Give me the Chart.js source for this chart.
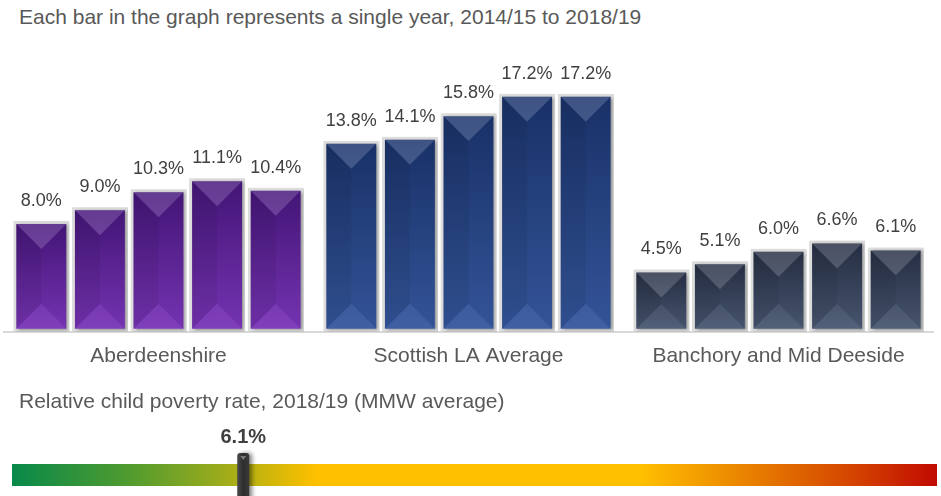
<!DOCTYPE html>
<html>
<head>
<meta charset="utf-8">
<script src="https://cdn.jsdelivr.net/npm/chart.js@4/dist/chart.umd.min.js"></script>
<style>
  body { margin: 0; background: #fff; }
  #wrap { position: relative; width: 941px; height: 496px; overflow: hidden; font-family: 'Liberation Sans', Arial, sans-serif; }
  .caption { position: absolute; left: 19px; font-size: 21px; color: #595959; white-space: nowrap; line-height: 25px; }
  canvas { position: absolute; left: 0; }
</style>
</head>
<body>
<div id="wrap">
  <div class="caption" style="top: 4px;">Each bar in the graph represents a single year, 2014/15 to 2018/19</div>
  <canvas id="bars" width="941" height="392" style="top: 0;"></canvas>
  <div class="caption" style="top: 388px;">Relative child poverty rate, 2018/19 (MMW average)</div>
  <canvas id="scale" width="941" height="76" style="top: 420px;"></canvas>
</div>
<script>
// categories and values
const areas = ['Aberdeenshire', 'Scottish LA Average', 'Banchory and Mid Deeside'];
const years = ['2014/15', '2015/16', '2016/17', '2017/18', '2018/19'];
const aberdeenshire = [8.0, 9.0, 10.3, 11.1, 10.4];
const scottishAverage = [13.8, 14.1, 15.8, 17.2, 17.2];
const banchory = [4.5, 5.1, 6.0, 6.6, 6.1];

const mmwRate = 6.1;
const mmwRange = [0, 24.4];

const FONT = "'Liberation Sans', Arial, sans-serif";

// top / bottom of the vertical gradient for each area
const areaColours = [
  ['#45167a', '#7b36ba'],
  ['#1a336b', '#36589f'],
  ['#262f44', '#4b5a74'],
];

const barFill = (ctx) => {
  const chart = ctx.chart;
  const yScale = chart.scales.y;
  const pair = areaColours[ctx.dataIndex];
  if (!yScale || ctx.raw == null) return pair[1];
  const top = yScale.getPixelForValue(ctx.raw);
  const base = yScale.getPixelForValue(0);
  if (!Number.isFinite(top) || !Number.isFinite(base)) return pair[1];
  const g = chart.ctx.createLinearGradient(0, top, 0, base);
  g.addColorStop(0, pair[0]);
  g.addColorStop(1, pair[1]);
  return g;
};

// shadow + bevel facets + value labels
const bevel = {
  id: 'bevel',
  beforeDatasetsDraw(chart) {
    const c = chart.ctx;
    c.save();
    c.shadowColor = 'rgba(0,0,0,0.35)';
    c.shadowBlur = 3;
    c.shadowOffsetX = 2;
    c.shadowOffsetY = 1;
  },
  afterDatasetsDraw(chart) {
    const c = chart.ctx;
    c.restore();
    chart.data.datasets.forEach((ds, di) => {
      const meta = chart.getDatasetMeta(di);
      meta.data.forEach((bar, i) => {
        const { x, y, base, width } = bar.getProps(['x', 'y', 'base', 'width'], true);
        const bw = 3;
        const L = x - width / 2 + bw, R = x + width / 2 - bw;
        const T = y + bw, B = base - bw;
        const d = (R - L) / 2;
        const poly = (pts, fill) => {
          c.beginPath();
          c.moveTo(pts[0][0], pts[0][1]);
          pts.slice(1).forEach(p => c.lineTo(p[0], p[1]));
          c.closePath();
          c.fillStyle = fill;
          c.fill();
        };
        c.save();
        poly([[L, T], [R, T], [x, T + d]], 'rgba(255,255,255,0.16)');
        poly([[L, T], [x, T + d], [x, B - d], [L, B]], 'rgba(0,0,0,0.10)');
        poly([[R, T], [R, B], [x, B - d], [x, T + d]], 'rgba(0,0,0,0.04)');
        poly([[L, B], [R, B], [x, B - d]], 'rgba(255,255,255,0.05)');
        c.restore();

        c.save();
        c.font = '18px ' + FONT;
        c.fillStyle = '#404040';
        c.textAlign = 'center';
        c.textBaseline = 'middle';
        c.fillText(ds.data[i].toFixed(1) + '%', x, y - 20);
        c.restore();
      });
    });
  }
};

new Chart(document.getElementById('bars'), {
  type: 'bar',
  data: {
    labels: areas,
    datasets: years.map((yr, i) => ({
      label: yr,
      data: [aberdeenshire[i], scottishAverage[i], banchory[i]],
      backgroundColor: barFill,
      borderColor: '#dcdcdc',
      borderWidth: 3,
      borderSkipped: false,
      categoryPercentage: 0.945,
      barPercentage: 0.955,
    })),
  },
  options: {
    responsive: false,
    animation: false,
    layout: { padding: { left: 3.5, right: 7.5, top: 55, bottom: 11 } },
    scales: {
      x: {
        grid: { display: false, drawTicks: false },
        border: { display: true, color: '#d9d9d9', width: 2 },
        ticks: { color: '#595959', font: { family: FONT, size: 21 }, padding: 12 },
      },
      y: { display: false, min: 0, max: 20 },
    },
    plugins: { legend: { display: false }, tooltip: { enabled: false } },
  },
  plugins: [bevel],
});

// MMW scale bar with marker
const marker = {
  id: 'marker',
  afterDatasetsDraw(chart) {
    const c = chart.ctx;
    const x = chart.scales.x.getPixelForValue(mmwRate);
    const top = 33, bottom = 82, w = 12;
    c.save();
    c.shadowColor = 'rgba(0,0,0,0.45)';
    c.shadowBlur = 4;
    c.shadowOffsetX = 3;
    c.beginPath();
    c.roundRect(x - w / 2, top, w, bottom - top, 3);
    const g = c.createLinearGradient(x - w / 2, 0, x + w / 2, 0);
    g.addColorStop(0, '#4a4a4a');
    g.addColorStop(0.5, '#2e2e2e');
    g.addColorStop(1, '#3a3a3a');
    c.fillStyle = g;
    c.fill();
    c.restore();
    c.save();
    c.beginPath();
    c.moveTo(x - 3, top + 3);
    c.lineTo(x + 3, top + 3);
    c.lineTo(x, top + 7);
    c.closePath();
    c.fillStyle = '#7a7a7a';
    c.fill();
    c.font = 'bold 20px ' + FONT;
    c.fillStyle = '#404040';
    c.textAlign = 'center';
    c.textBaseline = 'middle';
    c.fillText(mmwRate.toFixed(1) + '%', x, 17);
    c.restore();
  }
};

const rangeFill = (ctx) => {
  const area = ctx.chart.chartArea;
  if (!area || !Number.isFinite(area.left) || !Number.isFinite(area.right)) return '#ffc000';
  const g = ctx.chart.ctx.createLinearGradient(area.left, 0, area.right, 0);
  g.addColorStop(0.00, '#08894a');
  g.addColorStop(0.12, '#4c9a30');
  g.addColorStop(0.22, '#96aa1e');
  g.addColorStop(0.28, '#d2b70a');
  g.addColorStop(0.33, '#ffc000');
  g.addColorStop(0.68, '#ffc000');
  g.addColorStop(0.82, '#e47400');
  g.addColorStop(0.92, '#d23e00');
  g.addColorStop(1.00, '#c00a00');
  return g;
};

new Chart(document.getElementById('scale'), {
  type: 'bar',
  data: {
    labels: ['MMW'],
    datasets: [{
      data: [mmwRange],
      backgroundColor: rangeFill,
      borderWidth: 0,
      categoryPercentage: 1,
      barPercentage: 1,
    }],
  },
  options: {
    indexAxis: 'y',
    responsive: false,
    animation: false,
    layout: { padding: { left: 12, right: 4, top: 44, bottom: 10 } },
    scales: {
      x: { display: false, min: mmwRange[0], max: mmwRange[1] },
      y: { display: false },
    },
    plugins: { legend: { display: false }, tooltip: { enabled: false } },
  },
  plugins: [marker],
});
</script>
</body>
</html>
